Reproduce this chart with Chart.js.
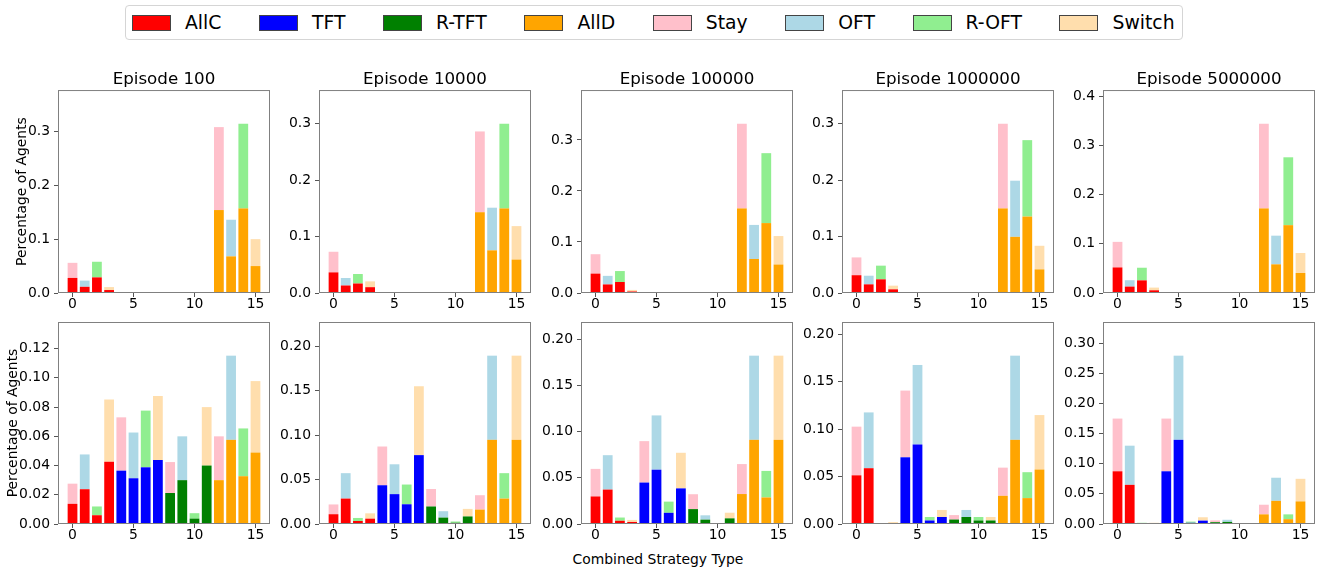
<!DOCTYPE html>
<html>
<head>
<meta charset="utf-8">
<script src="https://cdn.jsdelivr.net/npm/chart.js@4.4.0/dist/chart.umd.min.js"></script>
<style>
  html, body { margin:0; padding:0; background:#ffffff; width:1318px; height:571px; overflow:hidden; font-family:"DejaVu Sans", sans-serif; }
  canvas { position:absolute; }
  #legend { position:absolute; left:125px; top:5px; height:35px; box-sizing:border-box; border:1px solid #d5d5d5; border-radius:4px; display:flex; align-items:center; padding:0 7px 0 6px; background:#fff; }
  .lg-item { display:flex; align-items:center; }
  .lg-item + .lg-item { margin-left:37.6px; }
  .lg-sw { width:37px; height:14px; border:1px solid #444; }
  .lg-tx { margin-left:14px; font-size:18.8px; line-height:22px; color:#000; white-space:nowrap; }
  #xlabel { position:absolute; left:0; width:1316px; top:551px; text-align:center; font-size:13.9px; line-height:17px; color:#000; }
</style>
</head>
<body>
<div id="legend"></div>
<div id="xlabel">Combined Strategy Type</div>
<script>
// ---------- data ----------
const strategyIndex = [0,1,2,3,4,5,6,7,8,9,10,11,12,13,14,15];
const xTickValues = [0,5,10,15];
const episodeTitles = ['Episode 100','Episode 10000','Episode 100000','Episode 1000000','Episode 5000000'];
const firstLabels = ['AllC','TFT','R-TFT','AllD'];
const secondLabels = ['Stay','OFT','R-OFT','Switch'];
const firstColors = ['#ff0000','#0000ff','#008000','#ffa500'];
const secondColors = ['#ffc0cb','#add8e6','#90ee90','#ffdead'];

// top row: share of agents per combined strategy (each of the two stacked segments has this height)
const topEp100     = [0.0280,0.0115,0.0290,0.0055,0,0,0,0,0,0,0,0,0.1540,0.0680,0.1570,0.0500];
const topEp10000   = [0.0365,0.0133,0.0168,0.0103,0,0,0,0,0,0,0,0,0.1430,0.0755,0.1497,0.0592];
const topEp100000  = [0.0380,0.0168,0.0215,0.0030,0,0,0,0,0,0,0,0,0.1657,0.0667,0.1370,0.0558];
const topEp1000000 = [0.0315,0.0153,0.0242,0.0065,0,0,0,0,0,0,0,0,0.1497,0.0994,0.1353,0.0418];
const topEp5000000 = [0.0520,0.0130,0.0257,0.0055,0,0,0,0,0,0,0,0,0.1720,0.0583,0.1380,0.0407];

// bottom row
const botEp100     = [0.0138,0.0238,0.0060,0.0426,0.0365,0.0313,0.0388,0.0438,0.0212,0.0300,0.0037,0.0400,0.0300,0.0576,0.0327,0.0489];
const botEp10000   = [0.0110,0.0286,0.0034,0.0060,0.0436,0.0336,0.0222,0.0775,0.0197,0.0072,0.0014,0.0085,0.0162,0.0947,0.0286,0.0947];
const botEp100000  = [0.0298,0.0372,0.0035,0.0022,0.0448,0.0587,0.0121,0.0385,0.0161,0.0047,0,0.0061,0.0324,0.0910,0.0287,0.0910];
const botEp1000000 = [0.0513,0.0588,0,0.0010,0.0703,0.0838,0.0037,0.0074,0.0047,0.0074,0.0037,0.0037,0.0297,0.0887,0.0273,0.0574];
const botEp5000000 = [0.0875,0.0650,0.0010,0.0010,0.0875,0.1397,0.0020,0.0056,0.0030,0.0035,0,0,0.0160,0.0384,0.0080,0.0375];

// y tick labels
const yTicksTop    = [0,0.1,0.2,0.3];
const yTicksTop5M  = [0,0.1,0.2,0.3,0.4];
const yTicksBot100 = [0,0.02,0.04,0.06,0.08,0.10,0.12];
const yTicksBot    = [0,0.05,0.10,0.15,0.20];
const yTicksBot5M  = [0,0.05,0.10,0.15,0.20,0.25,0.30];

// ---------- layout ----------
const FONT = '"DejaVu Sans", sans-serif';
const colLeft = [58, 319, 581, 842, 1103];
const plotW = 212;
const rowTop = [90, 322];
const rowH = [203, 202];
const yLabelCenter = [22, 13];
const TITLE_H = 32, XAX_H = 36, RIGHT_PAD = 14;

const panels = [
  {row:0,col:0,vals:topEp100,ticks:yTicksTop,dec:1},
  {row:0,col:1,vals:topEp10000,ticks:yTicksTop,dec:1},
  {row:0,col:2,vals:topEp100000,ticks:yTicksTop,dec:1},
  {row:0,col:3,vals:topEp1000000,ticks:yTicksTop,dec:1},
  {row:0,col:4,vals:topEp5000000,ticks:yTicksTop5M,dec:1},
  {row:1,col:0,vals:botEp100,ticks:yTicksBot100,dec:2},
  {row:1,col:1,vals:botEp10000,ticks:yTicksBot,dec:2},
  {row:1,col:2,vals:botEp100000,ticks:yTicksBot,dec:2},
  {row:1,col:3,vals:botEp1000000,ticks:yTicksBot,dec:2},
  {row:1,col:4,vals:botEp5000000,ticks:yTicksBot5M,dec:2},
];

const framePlugin = {
  id: 'frame',
  afterDraw(chart) {
    const {ctx, chartArea:a} = chart;
    ctx.save();
    ctx.strokeStyle = '#808080';
    ctx.lineWidth = 1;
    ctx.strokeRect(a.left + 0.5, a.top + 0.5, a.right - a.left - 1, a.bottom - a.top - 1);
    ctx.restore();
  }
};

Chart.defaults.font.family = FONT;
Chart.defaults.color = '#000';

const first = strategyIndex[0], last = strategyIndex[strategyIndex.length-1];
const span = (last + 0.4) - (first - 0.4);
const xMin = first - 0.4 - 0.05 * span;
const xMax = last + 0.4 + 0.05 * span;

panels.forEach(p => {
  const L = colLeft[p.col], T = rowTop[p.row], H = rowH[p.row];
  const yw = p.col === 0 ? L : 56;
  const cw = yw + plotW + RIGHT_PAD, ch = TITLE_H + H + XAX_H;
  const hasTitle = p.row === 0;
  const cv = document.createElement('canvas');
  cv.width = cw; cv.height = ch;
  cv.style.left = (L - yw) + 'px';
  cv.style.top = (T - TITLE_H) + 'px';
  cv.style.width = cw + 'px'; cv.style.height = ch + 'px';
  document.body.appendChild(cv);

  const lower = p.vals, upper = p.vals;
  const yMax = 1.2 * Math.max(...strategyIndex.map((_, i) => lower[i] + upper[i]));

  new Chart(cv, {
    type: 'bar',
    data: {
      datasets: [
        {
          label: 'first',
          data: strategyIndex.map((x, i) => ({x, y: lower[i]})),
          backgroundColor: strategyIndex.map(i => firstColors[Math.floor(i / 4)]),
          borderWidth: 0, barPercentage: 0.8, categoryPercentage: 1.0
        },
        {
          label: 'second',
          data: strategyIndex.map((x, i) => ({x, y: upper[i]})),
          backgroundColor: strategyIndex.map(i => secondColors[i % 4]),
          borderWidth: 0, barPercentage: 0.8, categoryPercentage: 1.0
        }
      ]
    },
    options: {
      responsive: false, animation: false, devicePixelRatio: 1,
      layout: { padding: { left: 0, right: RIGHT_PAD, top: hasTitle ? 0 : TITLE_H, bottom: 0 } },
      plugins: {
        legend: { display: false },
        tooltip: { enabled: false },
        title: {
          display: hasTitle, text: episodeTitles[p.col], fullSize: false,
          font: { family: FONT, size: 16.7, weight: 'normal', lineHeight: 1.2 },
          color: '#000', padding: { top: 12, bottom: 0 }
        }
      },
      scales: {
        x: {
          type: 'linear', stacked: true, min: xMin, max: xMax, offset: false,
          afterBuildTicks: s => { s.ticks = xTickValues.map(v => ({value: v})); },
          afterFit: s => { s.height = XAX_H; },
          ticks: { font: { family: FONT, size: 13.9, lineHeight: 1.0 }, color: '#000', padding: 0, maxRotation: 0, autoSkip: false, callback: v => String(v) },
          grid: { display: true, offset: false, drawOnChartArea: false, drawTicks: true, tickLength: 4, tickColor: '#555', color: '#555' },
          border: { display: false }
        },
        y: {
          stacked: true, min: 0, max: yMax,
          afterBuildTicks: s => { s.ticks = p.ticks.map(v => ({value: v})); },
          afterFit: s => { s.width = yw; },
          ticks: { font: { family: FONT, size: 13.9 }, color: '#000', padding: 4, autoSkip: false, callback: v => Number(v).toFixed(p.dec) },
          grid: { display: true, drawOnChartArea: false, drawTicks: true, tickLength: 4, tickColor: '#555', color: '#555' },
          border: { display: false },
          title: {
            display: p.col === 0, text: 'Percentage of Agents',
            font: { family: FONT, size: 13.9, lineHeight: 1.2 }, color: '#000',
            padding: { top: yLabelCenter[p.row] - 8.34, bottom: 0 }
          }
        }
      }
    },
    plugins: [framePlugin]
  });
});

// ---------- legend ----------
const legend = document.getElementById('legend');
const legendLabels = firstLabels.concat(secondLabels);
const legendColors = firstColors.concat(secondColors);
legendLabels.forEach((lab, i) => {
  const it = document.createElement('div'); it.className = 'lg-item';
  const sw = document.createElement('div'); sw.className = 'lg-sw'; sw.style.background = legendColors[i];
  const tx = document.createElement('div'); tx.className = 'lg-tx'; tx.textContent = lab;
  it.appendChild(sw); it.appendChild(tx); legend.appendChild(it);
});
</script>
</body>
</html>
